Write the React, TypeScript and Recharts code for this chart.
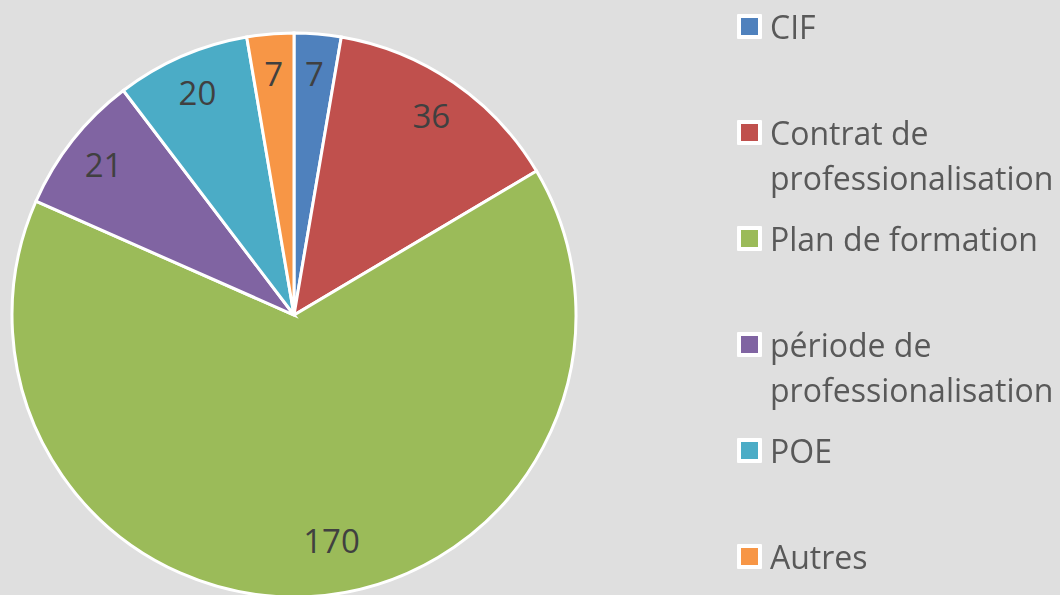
import { Legend, Pie, PieChart, Cell } from "recharts";

const categories = [
  "CIF",
  "Contrat de professionalisation",
  "Plan de formation",
  "période de professionalisation",
  "POE",
  "Autres",
];
const values = [7, 36, 170, 21, 20, 7];
const colors = ["#4F81BD", "#C0504D", "#9BBB59", "#8064A2", "#4BACC6", "#F79646"];

const data = categories.map((name, i) => ({ name, value: values[i] }));

const RADIAN = Math.PI / 180;
const FONT = "'Open Sans', sans-serif";

const renderLabel = (props: any) => {
  const { cx, cy, midAngle, outerRadius, value, percent } = props;
  // big slice label sits a bit further in, like the original
  const r = outerRadius * (percent > 0.5 ? 0.81 : 0.86);
  const angle = percent > 0.5 ? midAngle + 6 : midAngle;
  const x = cx + r * Math.cos(-angle * RADIAN);
  const y = cy + r * Math.sin(-angle * RADIAN);
  return (
    <text
      x={x}
      y={y}
      fill="#404040"
      fontSize={33}
      fontFamily={FONT}
      textAnchor="middle"
      dominantBaseline="central"
    >
      {value}
    </text>
  );
};

const renderLegend = () => (
  <div style={{ fontFamily: FONT, fontSize: 32, color: "#595959", lineHeight: "45px" }}>
    {data.map((d, i) => (
      <div key={d.name} style={{ height: 106, display: "flex", alignItems: "flex-start" }}>
        <div
          style={{
            width: 17,
            height: 17,
            marginTop: 10,
            marginRight: 8,
            flexShrink: 0,
            background: colors[i],
            border: "4px solid #ffffff",
            borderRadius: 1,
          }}
        />
        <div style={{ width: 300, whiteSpace: "normal" }}>{d.name}</div>
      </div>
    ))}
  </div>
);

export default function App() {
  return (
    <div style={{ position: "fixed", left: 0, top: 0, width: 1060, height: 595, background: "#DFDFDF" }}>
      <PieChart width={1060} height={595} margin={{ top: 0, right: 0, bottom: 0, left: 0 }}>
        <Pie
          data={data}
          dataKey="value"
          nameKey="name"
          cx={294}
          cy={315}
          outerRadius={282}
          startAngle={90}
          endAngle={-270}
          stroke="#ffffff"
          strokeWidth={3}
          label={renderLabel}
          labelLine={false}
          isAnimationActive={false}
        >
          {data.map((d, i) => (
            <Cell key={d.name} fill={colors[i]} />
          ))}
        </Pie>
        <Legend
          layout="vertical"
          content={renderLegend}
          wrapperStyle={{ left: 737, top: 4, width: 323 }}
        />
      </PieChart>
    </div>
  );
}
